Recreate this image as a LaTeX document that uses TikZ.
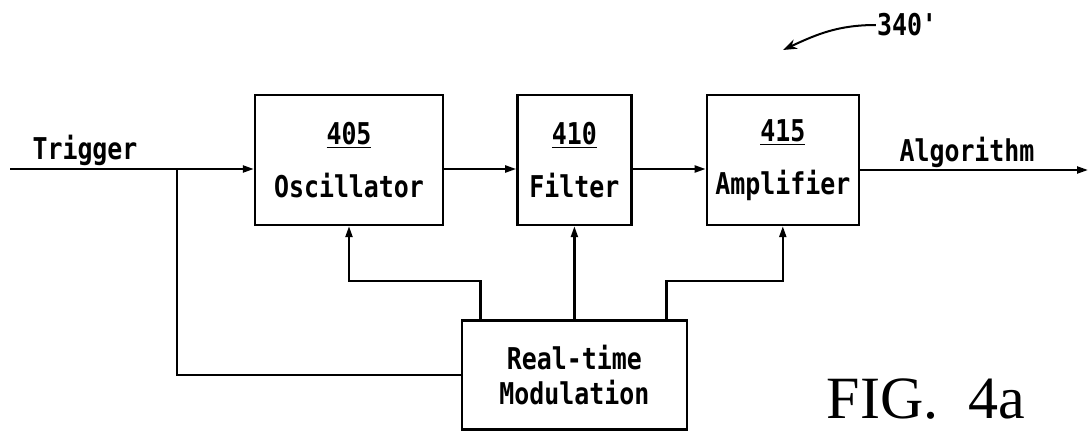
\documentclass[tikz,border=0pt]{standalone}
\usepackage{fontspec}
\newfontfamily\patfont{DejaVu Sans Mono}[FakeStretch=0.83]
\newfontfamily\figfont{Liberation Serif}
\usetikzlibrary{arrows.meta,positioning}

\begin{document}
\begin{tikzpicture}[
  x=0.5pt, y=0.5pt,
  line width=1.1pt,
  blk/.style={draw, line width=1.2pt, inner sep=0pt, align=center, minimum height=65pt,
    font=\patfont\bfseries\fontsize{15pt}{26.5pt}\selectfont},
  sig/.style={inner sep=0pt, font=\patfont\bfseries\fontsize{15pt}{18pt}\selectfont},
  >={Triangle[length=5.5pt,width=3.5pt]}
]
\useasboundingbox (0,0) rectangle (1089,435);
\node[blk, minimum width=94pt] (osc) at (349,275) {\underline{405}\\Oscillator};
\node[blk, minimum width=57pt, right=36pt of osc] (filt) {\underline{410}\\Filter};
\node[blk, minimum width=76pt, right=36.5pt of filt] (amp) {\underline{415}\\Amplifier};
\node[blk, minimum width=112.5pt, minimum height=54.5pt, below=46.5pt of filt,
  font=\patfont\bfseries\fontsize{15pt}{17.5pt}\selectfont] (mod) {Real-time\\Modulation};
\coordinate (trig) at (10,266);
\coordinate (br) at (177,266);
\coordinate (out) at (1088,265);
\coordinate (tip) at (783,385);
\node[sig] (trglbl) at (85,285) {Trigger};
\node[sig] (alglbl) at (967,283) {Algorithm};
\node[sig] (ref) at (907,410) {340'};
\node[font=\figfont\fontsize{30pt}{30pt}\selectfont, inner sep=0pt] (fig) at (926,36) {FIG.\hspace{0.5em}4a};
\draw[->] (trig) -- (trig -| osc.west);
\draw[->] (trig -| osc.east) -- (trig -| filt.west);
\draw[->] (trig -| filt.east) -- (trig -| amp.west);
\draw[->] (out -| amp.east) -- (out);
\draw (br) |- (mod.west);
\draw[->] ([xshift=-47pt]mod.north) -- ++(0,38) -| (osc.south);
\draw[->] (mod.north) -- (filt.south);
\draw[->] ([xshift=46pt]mod.north) -- ++(0,38) -| (amp.south);
\draw[-{Stealth[length=7pt,width=5pt]}, line width=1pt] (ref.west) to[out=180,in=25] (tip);
\end{tikzpicture}
\end{document}
